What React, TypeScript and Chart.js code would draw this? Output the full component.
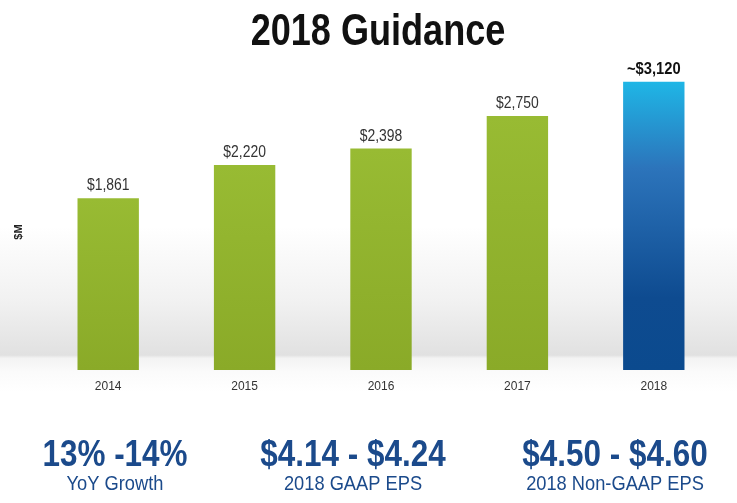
import React, { useEffect, useRef } from 'react';
import { Chart, registerables } from 'chart.js';

Chart.register(...registerables);

const years = ['2014', '2015', '2016', '2017', '2018'];
const revenue = [1861, 2220, 2398, 2750, 3120];
const valueLabels = ['$1,861', '$2,220', '$2,398', '$2,750', '~$3,120'];
const kpiValues = ['13% -14%', '$4.14 - $4.24', '$4.50 - $4.60'];
const kpiCaptions = ['YoY Growth', '2018 GAAP EPS', '2018 Non-GAAP EPS'];
const titleText = '2018 Guidance';
const axisTitle = '$M';

const SANS = '"Liberation Sans", Arial, sans-serif';
const KPI_BLUE = '#1b4a8b';

function narrowText(ctx: CanvasRenderingContext2D, t: string, x: number, y: number, sx: number) {
  ctx.save();
  ctx.translate(x, y);
  ctx.scale(sx, 1);
  ctx.fillText(t, 0, 0);
  ctx.restore();
}

export default function App() {
  const ref = useRef<HTMLCanvasElement | null>(null);

  useEffect(() => {
    document.body.style.margin = '0';
    const canvas = ref.current;
    if (!canvas) return;

    const textPlugin = {
      id: 'textPlugin',
      afterDatasetsDraw(chart: any) {
        const ctx = chart.ctx;
        const meta = chart.getDatasetMeta(0);
        ctx.save();
        ctx.textAlign = 'center';
        ctx.textBaseline = 'alphabetic';
        meta.data.forEach((el: any, i: number) => {
          const last = i === meta.data.length - 1;
          ctx.fillStyle = last ? '#111' : '#333';
          ctx.font = (last ? 'bold 16px ' : '16px ') + SANS;
          narrowText(ctx, valueLabels[i], el.x, el.y - 8, last ? 0.92 : 0.87);
        });
        ctx.restore();
      },
      afterDraw(chart: any) {
        const ctx = chart.ctx;
        ctx.save();
        ctx.textAlign = 'center';
        ctx.textBaseline = 'alphabetic';
        ctx.fillStyle = '#111';
        ctx.font = 'bold 44px ' + SANS;
        narrowText(ctx, titleText, 378, 45, 0.82);

        const centers = [115, 353, 615];
        kpiValues.forEach((t, i) => {
          ctx.fillStyle = KPI_BLUE;
          ctx.font = 'bold 37px ' + SANS;
          narrowText(ctx, t, centers[i], 466, 0.85);
          ctx.font = '21px ' + SANS;
          narrowText(ctx, kpiCaptions[i], centers[i], 490, 0.87);
        });

        ctx.translate(19, 232);
        ctx.rotate(-Math.PI / 2);
        ctx.fillStyle = '#222';
        ctx.font = 'bold 11px ' + SANS;
        ctx.textBaseline = 'middle';
        ctx.fillText(axisTitle, 0, 0);
        ctx.restore();
      },
    };

    const chart = new Chart(canvas, {
      type: 'bar',
      data: {
        labels: years,
        datasets: [
          {
            data: revenue,
            barPercentage: 0.45,
            categoryPercentage: 1,
            borderWidth: 0,
            backgroundColor: (c: any) => {
              const ch = c.chart;
              const area = ch.chartArea;
              if (!area) return '#91b22d';
              const y = ch.scales.y;
              const top = y.getPixelForValue(revenue[c.dataIndex] ?? 0);
              const g = ch.ctx.createLinearGradient(0, top, 0, area.bottom);
              if (c.dataIndex === years.length - 1) {
                g.addColorStop(0, '#1fb6e6');
                g.addColorStop(0.3, '#2c74bb');
                g.addColorStop(0.75, '#0e4b90');
                g.addColorStop(1, '#0b4a8e');
              } else {
                g.addColorStop(0, '#98bb33');
                g.addColorStop(1, '#8aaa28');
              }
              return g;
            },
          },
        ],
      },
      options: {
        responsive: false,
        animation: false,
        layout: { padding: { left: 40, right: 15, top: 56, bottom: 0 } },
        plugins: {
          legend: { display: false },
          title: { display: false },
          tooltip: { enabled: false },
        },
        scales: {
          x: {
            grid: { display: false },
            border: { display: false },
            ticks: {
              color: '#333',
              padding: 1,
              font: { family: SANS, size: 12 },
            },
            afterFit: (s: any) => {
              s.height = 133;
            },
          },
          y: {
            display: false,
            min: 0,
            max: 3400,
          },
        },
      },
      plugins: [textPlugin],
    });

    return () => chart.destroy();
  }, []);

  return (
    <div
      style={{
        position: 'fixed',
        left: 0,
        top: 0,
        width: 737,
        height: 503,
        background:
          'linear-gradient(to bottom, #ffffff 0%, #ffffff 45%, #f1f1f1 60%, #e1e1e1 70.6%, #f3f3f3 71.2%, #fbfbfb 74%, #ffffff 78%, #ffffff 100%)',
      }}
    >
      <canvas ref={ref} width={737} height={503} style={{ display: 'block' }} />
    </div>
  );
}
